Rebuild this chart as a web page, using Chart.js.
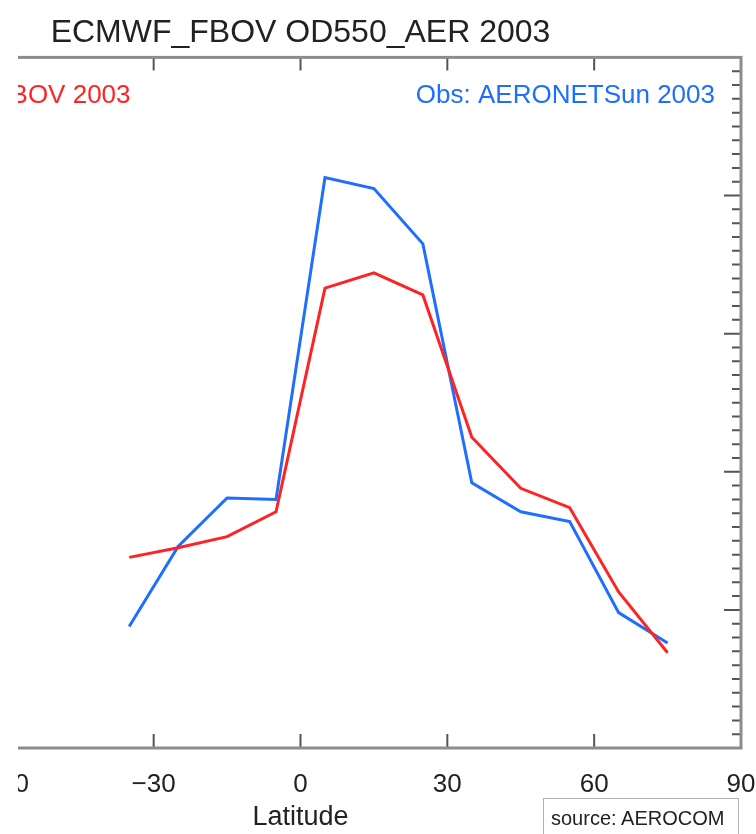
<!DOCTYPE html>
<html>
<head>
<meta charset="utf-8">
<script src="https://cdn.jsdelivr.net/npm/chart.js@4.4.1/dist/chart.umd.min.js"></script>
<style>
  body { margin: 0; background: #fff; overflow: hidden; width: 756px; height: 834px; position: relative; }
  #clip { position: absolute; left: 18px; top: 0; width: 738px; height: 834px; overflow: hidden; }
  #grafico { position: absolute; left: -200px; top: 0; }
  #fonte { position: absolute; left: 543px; top: 798px; width: 196px; height: 44px; border: 1px solid #b0b0b0;
           font: 20px "Liberation Sans", Arial, sans-serif; color: #222; box-sizing: border-box; padding: 8px 0 0 7px; }
</style>
</head>
<body>
<div id="clip"><canvas id="grafico" width="960" height="834"></canvas></div>
<div id="fonte">source: AEROCOM</div>
<script>
const titulo = 'ECMWF_FBOV OD550_AER 2003';
const rotuloModelo = 'ECMWF_FBOV 2003';
const rotuloObs = 'Obs: AERONETSun 2003';

const latitudes = [-35, -25, -15, -5, 5, 15, 25, 35, 45, 55, 65, 75];
const modelo = [0.138, 0.145, 0.153, 0.171, 0.333, 0.344, 0.328, 0.225, 0.188, 0.174, 0.113, 0.069];
const observado = [0.088, 0.146, 0.181, 0.180, 0.413, 0.405, 0.365, 0.192, 0.171, 0.164, 0.098, 0.076];

const ticksLatitude = [-60, -30, 0, 30, 60];

const vermelho = 'rgb(255, 36, 36)';
const azul = 'rgb(30, 110, 255)';
const fonte = '"Liberation Sans", Arial, sans-serif';

// moldura estilo IDL: ticks para dentro, eixo direito com ticks menores
const moldura = {
    id: 'moldura',
    afterDatasetsDraw(chart) {
        const { ctx, chartArea: a, scales: { x, y } } = chart;
        ctx.save();
        ctx.strokeStyle = '#555';
        ctx.lineWidth = 2;
        ctx.beginPath();
        ticksLatitude.forEach(v => {
            const px = x.getPixelForValue(v);
            ctx.moveTo(px, a.top); ctx.lineTo(px, a.top + 13);
            ctx.moveTo(px, a.bottom); ctx.lineTo(px, a.bottom - 14);
        });
        for (let i = 1; i < 50; i++) {
            const py = y.getPixelForValue(i / 100);
            const len = i % 10 === 0 ? 17 : 9;
            ctx.moveTo(a.right - len, py); ctx.lineTo(a.right, py);
        }
        ctx.stroke();

        ctx.strokeStyle = '#8c8c8c';
        ctx.lineWidth = 3;
        ctx.strokeRect(a.left, a.top, a.right - a.left, a.bottom - a.top);

        ctx.font = '26px ' + fonte;
        ctx.textBaseline = 'middle';
        ctx.fillStyle = vermelho;
        ctx.textAlign = 'left';
        ctx.fillText(rotuloModelo, a.left + 22, a.top + 38);
        ctx.fillStyle = azul;
        ctx.textAlign = 'right';
        ctx.fillText(rotuloObs, a.right - 26, a.top + 38);
        ctx.restore();
    }
};

function gerarGrafico() {
    const ctx = document.getElementById('grafico').getContext('2d');
    new Chart(ctx, {
        type: 'line',
        data: {
            datasets: [
                { label: rotuloModelo, data: latitudes.map((lat, i) => ({ x: lat, y: modelo[i] })),
                  borderColor: vermelho, borderWidth: 3, pointRadius: 0, tension: 0 },
                { label: rotuloObs, data: latitudes.map((lat, i) => ({ x: lat, y: observado[i] })),
                  borderColor: azul, borderWidth: 3, pointRadius: 0, tension: 0 }
            ]
        },
        options: {
            responsive: false,
            animation: false,
            layout: { padding: { left: 42, right: 37, top: 0, bottom: 0 } },
            plugins: {
                legend: { display: false },
                tooltip: { enabled: false },
                title: {
                    display: true,
                    text: titulo,
                    color: '#222',
                    font: { family: fonte, size: 32, weight: 'normal' },
                    padding: { top: 14, bottom: 5 }
                }
            },
            scales: {
                x: {
                    type: 'linear',
                    min: -90,
                    max: 90,
                    grid: { display: false },
                    border: { display: false },
                    afterFit: s => { s.height = 86; },
                    ticks: {
                        stepSize: 30,
                        padding: 13,
                        color: '#222',
                        font: { family: fonte, size: 26 },
                        callback: v => v < 0 ? '\u2212' + Math.abs(v) : String(v)
                    },
                    title: {
                        display: true,
                        text: 'Latitude',
                        color: '#222',
                        font: { family: fonte, size: 27 },
                        padding: { top: 0, bottom: 0 }
                    }
                },
                y: {
                    display: false,
                    min: 0,
                    max: 0.5
                }
            }
        },
        plugins: [moldura]
    });
}

document.addEventListener('DOMContentLoaded', gerarGrafico);
</script>
</body>
</html>
